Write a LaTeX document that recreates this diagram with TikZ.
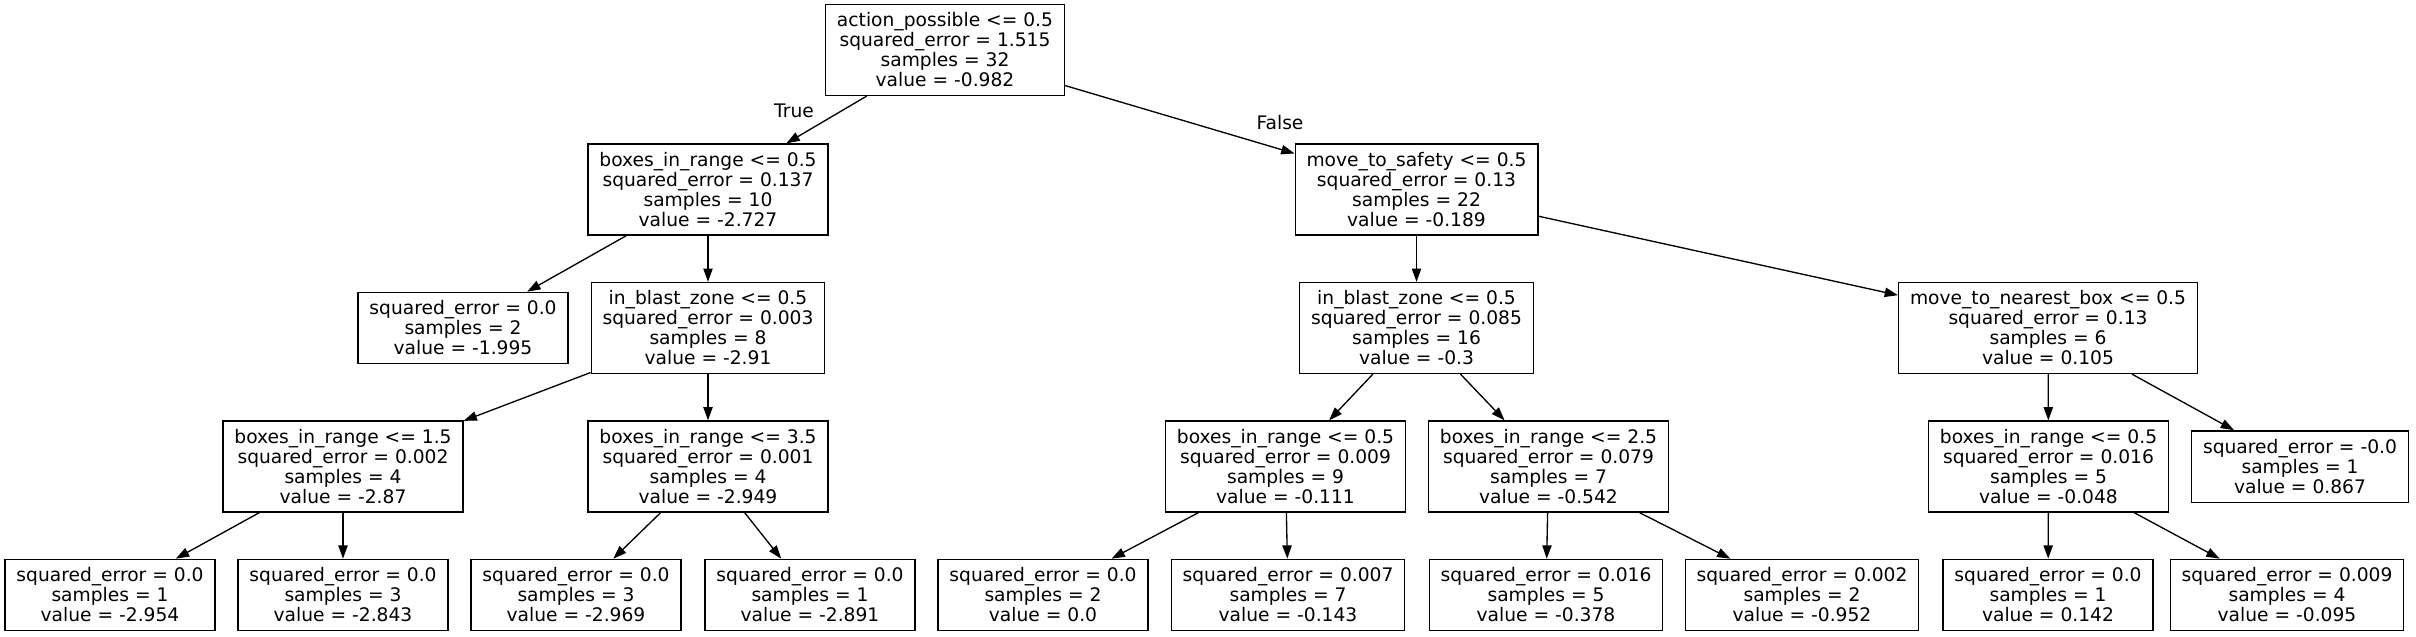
\documentclass[tikz,border=0pt]{standalone}
\usepackage{fontspec}
\setmainfont{DejaVu Sans}
\usetikzlibrary{arrows.meta}

\begin{document}
\begin{tikzpicture}[x=0.75pt,y=-0.75pt,
	every node/.style={font=\fontsize{14}{15}\selectfont,align=center},
	split/.style={draw,line width=1pt,inner xsep=8.5pt,inner ysep=0pt,minimum height=68.25pt},
	leaf/.style={split,minimum height=53.5pt},
	branch/.style={inner sep=0pt},
	edge/.style={-{Triangle[length=10pt,width=7pt]},line width=1pt}]
	\useasboundingbox (0,0) rectangle (2416,636);
	\node[split] (0) at (945,50) {action\_possible <= 0.5\\squared\_error = 1.515\\samples = 32\\value = -0.982};
	\node[split] (1) at (708,189.5) {boxes\_in\_range <= 0.5\\squared\_error = 0.137\\samples = 10\\value = -2.727};
	\node[leaf] (2) at (463,328) {squared\_error = 0.0\\samples = 2\\value = -1.995};
	\node[split] (3) at (708,328) {in\_blast\_zone <= 0.5\\squared\_error = 0.003\\samples = 8\\value = -2.91};
	\node[split] (4) at (343,466.5) {boxes\_in\_range <= 1.5\\squared\_error = 0.002\\samples = 4\\value = -2.87};
	\node[leaf] (5) at (110,595) {squared\_error = 0.0\\samples = 1\\value = -2.954};
	\node[leaf] (6) at (343,595) {squared\_error = 0.0\\samples = 3\\value = -2.843};
	\node[split] (7) at (708,466.5) {boxes\_in\_range <= 3.5\\squared\_error = 0.001\\samples = 4\\value = -2.949};
	\node[leaf] (8) at (576,595) {squared\_error = 0.0\\samples = 3\\value = -2.969};
	\node[leaf] (9) at (810,595) {squared\_error = 0.0\\samples = 1\\value = -2.891};
	\node[split] (10) at (1416.5,189.5) {move\_to\_safety <= 0.5\\squared\_error = 0.13\\samples = 22\\value = -0.189};
	\node[split] (11) at (1416.5,328) {in\_blast\_zone <= 0.5\\squared\_error = 0.085\\samples = 16\\value = -0.3};
	\node[split] (12) at (1285.5,466.5) {boxes\_in\_range <= 0.5\\squared\_error = 0.009\\samples = 9\\value = -0.111};
	\node[leaf] (13) at (1043,595) {squared\_error = 0.0\\samples = 2\\value = 0.0};
	\node[leaf] (14) at (1288,595) {squared\_error = 0.007\\samples = 7\\value = -0.143};
	\node[split] (15) at (1548.5,466.5) {boxes\_in\_range <= 2.5\\squared\_error = 0.079\\samples = 7\\value = -0.542};
	\node[leaf] (16) at (1546,595) {squared\_error = 0.016\\samples = 5\\value = -0.378};
	\node[leaf] (17) at (1802,595) {squared\_error = 0.002\\samples = 2\\value = -0.952};
	\node[split] (18) at (2048,328) {move\_to\_nearest\_box <= 0.5\\squared\_error = 0.13\\samples = 6\\value = 0.105};
	\node[split] (19) at (2048.5,466.5) {boxes\_in\_range <= 0.5\\squared\_error = 0.016\\samples = 5\\value = -0.048};
	\node[leaf] (20) at (2048,595) {squared\_error = 0.0\\samples = 1\\value = 0.142};
	\node[leaf] (21) at (2287,595) {squared\_error = 0.009\\samples = 4\\value = -0.095};
	\node[leaf] (22) at (2300,466.5) {squared\_error = -0.0\\samples = 1\\value = 0.867};
	\node[branch] (true) at (794,111) {True};
	\node[branch] (false) at (1280,123) {False};
	\draw[edge] (0) -- (1);
	\draw[edge] (0) -- (10);
	\draw[edge] (1) -- (2);
	\draw[edge] (1) -- (3);
	\draw[edge] (3) -- (4);
	\draw[edge] (3) -- (7);
	\draw[edge] (4) -- (5);
	\draw[edge] (4) -- (6);
	\draw[edge] (7) -- (8);
	\draw[edge] (7) -- (9);
	\draw[edge] (10) -- (11);
	\draw[edge] (10) -- (18);
	\draw[edge] (11) -- (12);
	\draw[edge] (11) -- (15);
	\draw[edge] (12) -- (13);
	\draw[edge] (12) -- (14);
	\draw[edge] (15) -- (16);
	\draw[edge] (15) -- (17);
	\draw[edge] (18) -- (19);
	\draw[edge] (18) -- (22);
	\draw[edge] (19) -- (20);
	\draw[edge] (19) -- (21);
\end{tikzpicture}
\end{document}
